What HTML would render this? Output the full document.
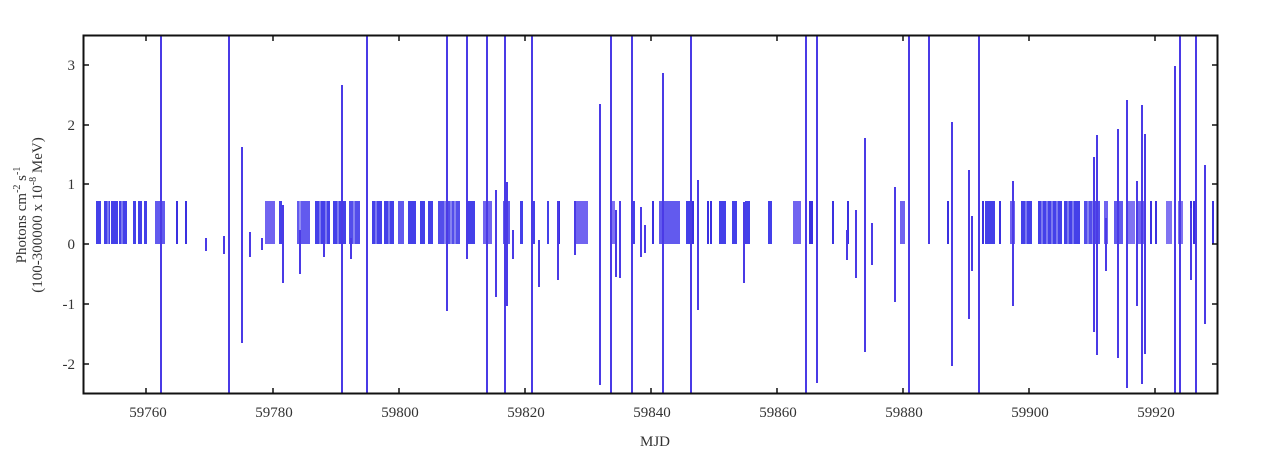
<!DOCTYPE html>
<html><head><meta charset="utf-8"><style>
body{margin:0;background:#fff}
svg text{font-family:"Liberation Serif",serif;fill:#333}
</style></head><body>
<svg width="1280" height="451" viewBox="0 0 1280 451" xmlns="http://www.w3.org/2000/svg">
<rect width="1280" height="451" fill="#fff"/>
<!-- bar blocks 0..0.72 -->
<g fill="#3a36e8" opacity="0.95">
<rect x="96" y="201" width="5" height="43"/><rect x="104" y="201" width="6" height="43"/><rect x="111" y="201" width="7" height="43"/><rect x="119" y="201" width="8" height="43"/>
<rect x="133" y="201" width="3" height="43"/><rect x="138" y="201" width="4" height="43"/><rect x="144" y="201" width="3" height="43"/>
<rect x="155" y="201" width="10" height="43" fill="#5a52ee"/>
<rect x="265" y="201" width="10" height="43" fill="#6a5cf0"/><rect x="279" y="201" width="3" height="43"/>
<rect x="297" y="201" width="13" height="43" fill="#5a52ee"/><rect x="315" y="201" width="15" height="43"/><rect x="333" y="201" width="13" height="43"/><rect x="349" y="201" width="11" height="43" fill="#4a44ea"/>
<rect x="372" y="201" width="10" height="43"/><rect x="384" y="201" width="10" height="43"/><rect x="398" y="201" width="6" height="43" fill="#5a52ee"/><rect x="408" y="201" width="8" height="43"/><rect x="420" y="201" width="5" height="43"/><rect x="428" y="201" width="5" height="43"/>
<rect x="438" y="201" width="22" height="43" fill="#4a44ea"/><rect x="468" y="201" width="7" height="43"/><rect x="483" y="201" width="9" height="43" fill="#6a5cf0"/>
<rect x="503" y="201" width="7" height="43" fill="#5a52ee"/><rect x="520" y="201" width="3" height="43"/><rect x="533" y="201" width="2" height="43"/><rect x="547" y="201" width="2" height="43"/>
<rect x="576" y="201" width="12" height="43" fill="#6a5cf0"/><rect x="610" y="201" width="5" height="43" fill="#7a6cf2"/>
<rect x="632" y="201" width="3" height="43"/><rect x="659" y="201" width="21" height="43" fill="#5a52ee"/><rect x="686" y="201" width="4" height="43"/>
<rect x="719" y="201" width="7" height="43"/><rect x="732" y="201" width="5" height="43"/><rect x="745" y="201" width="5" height="43"/><rect x="768" y="201" width="4" height="43"/><rect x="793" y="201" width="8" height="43" fill="#6a5cf0"/>
<rect x="900" y="201" width="5" height="43" fill="#6a5cf0"/><rect x="985" y="201" width="10" height="43"/>
<rect x="1010" y="201" width="5" height="43" fill="#6a5cf0"/><rect x="1021" y="201" width="11" height="43"/><rect x="1038" y="201" width="24" height="43"/><rect x="1064" y="201" width="16" height="43"/><rect x="1084" y="201" width="16" height="43" fill="#4a44ea"/>
<rect x="1104" y="201" width="4" height="43" fill="#6a5cf0"/><rect x="1114" y="201" width="9" height="43" fill="#5a52ee"/><rect x="1126" y="201" width="9" height="43" fill="#7a6cf2"/><rect x="1138" y="201" width="8" height="43" fill="#6a5cf0"/>
<rect x="1166" y="201" width="6" height="43" fill="#7a6cf2"/><rect x="1178" y="201" width="5" height="43" fill="#7a6cf2"/>
</g>
<g stroke="#fff" stroke-width="1" opacity="0.6">
<path d="M108 201V244M122 201V244M300 201V244M320 201V244M326 201V244M338 201V244M342 201V244M354 201V244M376 201V244M389 201V244M445 201V244M451 201V244M455 201V244M1042 201V244M1047 201V244M1052 201V244M1057 201V244M1068 201V244M1073 201V244M1088 201V244M1093 201V244M1026 201V244"/>
</g>
<g stroke="#3a30e0" stroke-width="2" fill="none">
<path d="M177 201V244M186 201V244M559 201V244M653 201V244M693 201V244M708 201V244M711 201V244M810 201V244M812 201V244M833 201V244M848 201V244M948 201V244M983 201V244M1000 201V244M1151 201V244M1156 201V244M1191 201V244M1213 201V244M1194 201V244"/>
</g>
<!-- error bars -->
<g stroke="#4a3ae6" stroke-width="2" fill="none">
<path d="M161 35V394M229 35V394M342 85V394M367 35V394M447 35V311M467 35V259M487 35V394M505 35V394M532 35V394M600 104V385M611 35V394M632 35V394M663 73V394M691 35V394M806 35V394M817 35V383M909 35V394M929 35V244M979 35V394"/>
<path d="M242 147V343M206 238V251M224 236V254M250 232V257M262 238V250M283 205V283M300 230V274M324 240V257M351 238V259M496 190V297M507 182V306M513 230V259M539 240V287M558 201V280M575 201V255M616 210V277M620 201V278M641 207V257M645 225V253M698 180V310M744 202V283M847 230V260M856 210V278M865 138V352M872 223V265M895 187V302M952 122V366M969 170V319M972 216V271M1013 181V306M1094 157V332M1097 135V355M1106 218V271M1118 129V358M1127 100V388M1137 181V306M1142 105V384M1145 134V354M1175 66V394M1180 35V394M1196 35V394M1191 208V280M1205 165V324"/>
</g>
<!-- frame -->
<rect x="83.5" y="35.5" width="1134" height="358" fill="none" stroke="#111" stroke-width="2"/>
<g stroke="#111" stroke-width="1.5">
<path d="M83 65h6M83 125h6M83 184h6M83 244h6M83 304h6M83 364h6M1218 65h-6M1218 125h-6M1218 184h-6M1218 244h-6M1218 304h-6M1218 364h-6"/>
<path d="M146 394v-6M273 394v-6M399 394v-6M525 394v-6M651 394v-6M777 394v-6M903 394v-6M1029 394v-6M1155 394v-6M146 35v6M273 35v6M399 35v6M525 35v6M651 35v6M777 35v6M903 35v6M1029 35v6M1155 35v6"/>
</g>
<g font-size="15" text-anchor="end">
<text x="75" y="70">3</text><text x="75" y="130">2</text><text x="75" y="189">1</text><text x="75" y="249">0</text><text x="75" y="309">-1</text><text x="75" y="369">-2</text>
</g>
<g font-size="15" text-anchor="middle">
<text x="148" y="417">59760</text><text x="274" y="417">59780</text><text x="400" y="417">59800</text><text x="526" y="417">59820</text><text x="652" y="417">59840</text><text x="778" y="417">59860</text><text x="904" y="417">59880</text><text x="1030" y="417">59900</text><text x="1156" y="417">59920</text>
<text x="655" y="446">MJD</text>
</g>
<g font-size="15" text-anchor="middle" transform="translate(26,215) rotate(-90)">
<text x="0" y="0">Photons cm<tspan dy="-6" font-size="10">-2</tspan><tspan dy="6"> s</tspan><tspan dy="-6" font-size="10">-1</tspan></text>
<text x="0" y="16">(100-300000 x 10<tspan dy="-6" font-size="10">-8</tspan><tspan dy="6"> MeV)</tspan></text>
</g>
</svg>
</body></html>
